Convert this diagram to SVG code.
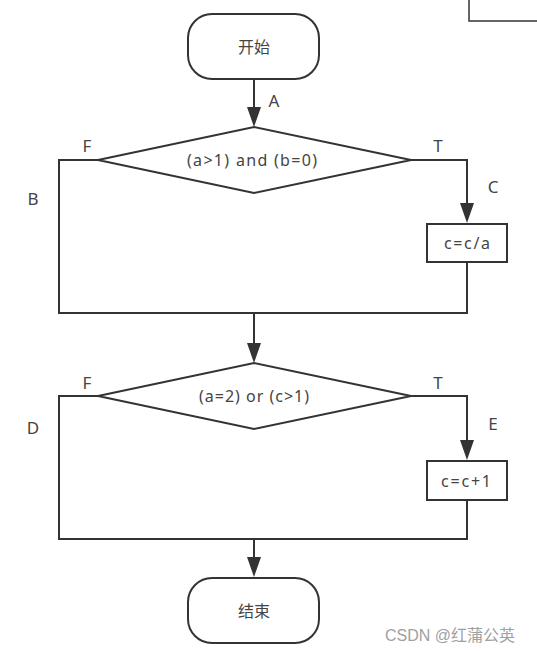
<svg xmlns="http://www.w3.org/2000/svg" width="537" height="652" viewBox="0 0 537 652">
<defs>
<style>
.s{fill:#fff;stroke:#333;stroke-width:2}
.c{fill:none;stroke:#333;stroke-width:2}
.t{font-family:"Noto Sans","Noto Sans CJK SC",sans-serif;font-size:16px;fill:#444;text-anchor:middle;dominant-baseline:central}
.l{font-family:"Noto Sans",sans-serif;font-size:17px;fill:#444;text-anchor:middle;dominant-baseline:central}
.w{font-family:"Liberation Sans","Noto Sans CJK SC",sans-serif;font-size:16px;fill:#a0a0a0;dominant-baseline:central}
</style>
</defs>
<rect x="469" y="-5" width="80" height="26" fill="none" stroke="#333" stroke-width="1.5"/>
<g id="connectors">
<path class="c" d="M254,79 V108"/><path d="M247,107 L261,107 L254,127 Z" fill="#333"/>
<path class="c" d="M411,160 H467 V204"/><path d="M460,203 L474,203 L467,223 Z" fill="#333"/>
<path class="c" d="M98,160 H59 V313 H467 V262"/>
<path class="c" d="M254,313 V344"/><path d="M247,343 L261,343 L254,363 Z" fill="#333"/>
<path class="c" d="M411,396 H467 V441"/><path d="M460,440 L474,440 L467,460 Z" fill="#333"/>
<path class="c" d="M98,396 H59 V539 H467 V500"/>
<path class="c" d="M254,539 V558"/><path d="M247,557 L261,557 L254,577 Z" fill="#333"/>
</g>
<g id="start"><rect class="s" x="188" y="14" width="131" height="65" rx="24"/><text class="t" x="254" y="47">开始</text></g>
<g id="cond1"><polygon class="s" points="98,160 254,127 411,160 254,193"/><text class="t" x="252" y="160" textLength="130" lengthAdjust="spacing">(a&gt;1) and (b=0)</text></g>
<g id="proc1"><rect class="s" x="427" y="224" width="80" height="38"/><text class="t" x="467" y="243" textLength="46" lengthAdjust="spacing">c=c/a</text></g>
<g id="cond2"><polygon class="s" points="98,396 254,363 411,396 254,429"/><text class="t" x="254" y="396" textLength="110" lengthAdjust="spacing">(a=2) or (c&gt;1)</text></g>
<g id="proc2"><rect class="s" x="427" y="461" width="80" height="39"/><text class="t" x="466" y="481" textLength="50" lengthAdjust="spacing">c=c+1</text></g>
<g id="end"><rect class="s" x="188" y="578" width="131" height="65" rx="24"/><text class="t" x="254" y="611">结束</text></g>
<g id="labels">
<text class="l" x="274" y="100">A</text>
<text class="l" x="87" y="145">F</text>
<text class="l" x="438" y="145">T</text>
<text class="l" x="33" y="198">B</text>
<text class="l" x="493" y="186">C</text>
<text class="l" x="87" y="382">F</text>
<text class="l" x="438" y="382">T</text>
<text class="l" x="33" y="427">D</text>
<text class="l" x="493" y="423">E</text>
</g>
<text class="w" x="385" y="635">CSDN @红蒲公英</text>
</svg>
